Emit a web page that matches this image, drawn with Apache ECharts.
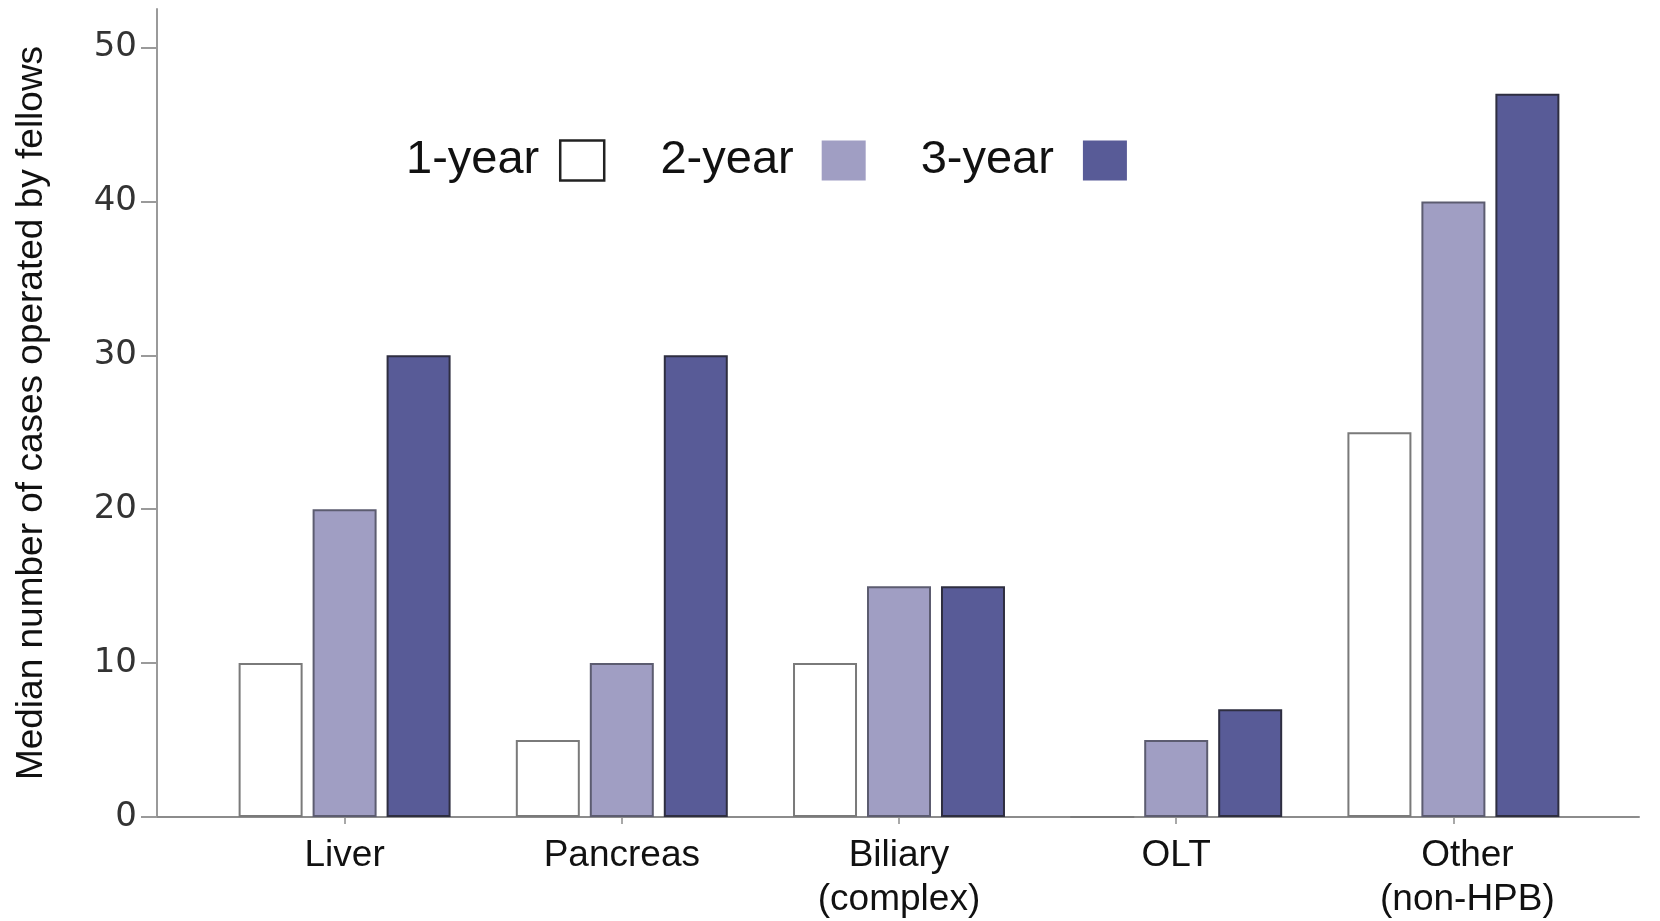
<!DOCTYPE html>
<html>
<head>
<meta charset="utf-8">
<script src="https://cdn.jsdelivr.net/npm/echarts@6/dist/echarts.min.js"></script>
<style>
html,body{margin:0;padding:0;background:#fff;}
#chart{width:1660px;height:921px;}
</style>
</head>
<body>
<div id="chart"></div>
<script>
const categories = ['Liver', 'Pancreas', 'Biliary\n(complex)', 'OLT', 'Other\n(non-HPB)'];
const seriesNames = ['1-year', '2-year', '3-year'];
const oneYear = [10, 5, 10, 0, 25];
const twoYear = [20, 10, 15, 5, 40];
const threeYear = [30, 30, 15, 7, 47];
const yTicks = [0, 10, 20, 30, 40, 50];
const yAxisTitle = 'Median number of cases operated by fellows';

(function () {
const chart = echarts.init(document.getElementById('chart'));
const gridTop = 9, gridBottom = 104, yMax = 52.5;
const catData = categories.map(function (c, i) {
  return i === categories.length - 1 ? { value: c, textStyle: { padding: [0, 0, 0, 28] } } : c;
});
const option = {
  backgroundColor: '#ffffff',
  animation: false,
  legend: {
    left: 401, top: 132,
    align: 'right',
    icon: 'rect',
    itemWidth: 44, itemHeight: 40,
    itemGap: 55,
    textStyle: { fontFamily: 'Liberation Sans, Arial', fontSize: 47, color: '#111' },
    data: [
      { name: seriesNames[0], itemStyle: { color: '#ffffff', borderColor: '#222', borderWidth: 2.5 }, textStyle: { padding: [0, 16, 0, 0] } },
      { name: seriesNames[1], itemStyle: { color: '#a09ec3', borderWidth: 0 }, textStyle: { padding: [0, 23, 0, 0] } },
      { name: seriesNames[2], itemStyle: { color: '#585b97', borderWidth: 0 }, textStyle: { padding: [0, 24, 0, 0] } }
    ]
  },
  grid: [
    { left: 157, right: 21, top: gridTop, bottom: gridBottom, outerBoundsMode: 'none' },
    { left: 206, right: 68, top: gridTop, bottom: gridBottom, outerBoundsMode: 'none' }
  ],
  xAxis: [
    { gridIndex: 0, type: 'value', min: 0, max: 1, axisLine: { show: true, lineStyle: { color: '#8c8c8c', width: 2 } },
      axisTick: { show: false }, axisLabel: { show: false }, splitLine: { show: false } },
    { gridIndex: 1, type: 'category', data: catData,
      axisLine: { show: false },
      axisTick: { show: true, alignWithLabel: true, length: 7, lineStyle: { color: '#8c8c8c', width: 1.5 } },
      axisLabel: { fontFamily: 'Liberation Sans, Arial', fontSize: 37, color: '#111', margin: 17, lineHeight: 44 } }
  ],
  yAxis: [
    { gridIndex: 0, type: 'value', min: 0, max: yMax,
      axisLine: { show: true, lineStyle: { color: '#9a9a9a', width: 2 } },
      axisTick: { show: true, length: 16, customValues: yTicks, lineStyle: { color: '#9a9a9a', width: 2 } },
      axisLabel: { customValues: yTicks, fontFamily: 'DejaVu Sans', fontSize: 34, color: '#333', margin: 20 },
      splitLine: { show: false },
      name: yAxisTitle, nameLocation: 'middle', nameGap: 107,
      nameTextStyle: { fontFamily: 'Liberation Sans, Arial', fontSize: 37, color: '#111' } },
    { gridIndex: 1, type: 'value', min: 0, max: yMax, show: false }
  ],
  series: [
    { name: seriesNames[0], type: 'bar', xAxisIndex: 1, yAxisIndex: 1, data: oneYear,
      barWidth: 64, barGap: '15.6%',
      itemStyle: { color: '#ffffff', borderColor: '#7a7a7a', borderWidth: 2 } },
    { name: seriesNames[1], type: 'bar', xAxisIndex: 1, yAxisIndex: 1, data: twoYear,
      barWidth: 64, barGap: '15.6%',
      itemStyle: { color: '#a09ec3', borderColor: '#5c5c70', borderWidth: 2 } },
    { name: seriesNames[2], type: 'bar', xAxisIndex: 1, yAxisIndex: 1, data: threeYear,
      barWidth: 64, barGap: '15.6%',
      itemStyle: { color: '#585b97', borderColor: '#2e2e40', borderWidth: 2 } }
  ]
};
chart.setOption(option);
})();
</script>
</body>
</html>
